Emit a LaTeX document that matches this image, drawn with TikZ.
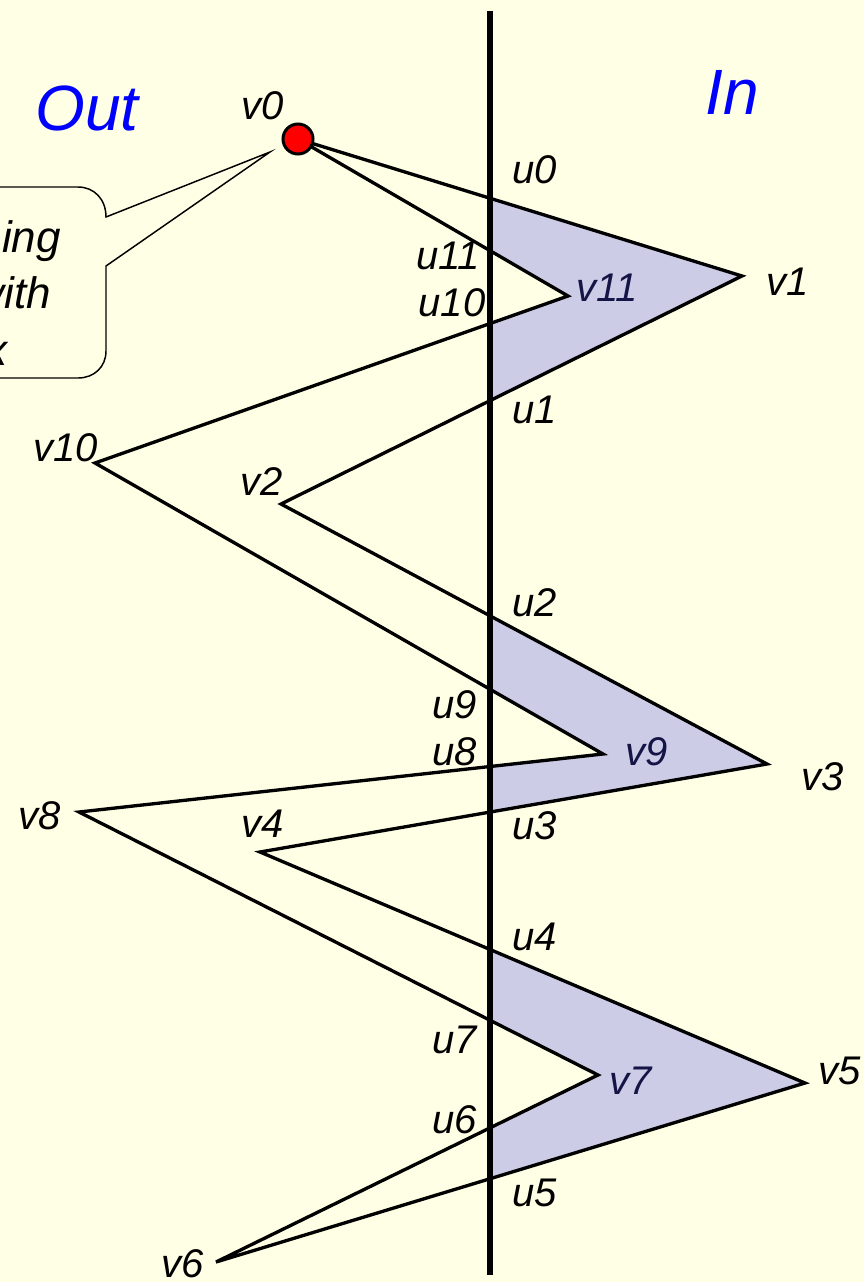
\documentclass[tikz,border=0pt]{standalone}
\usepackage{fontspec}
\setmainfont{Liberation Sans}
\definecolor{bg}{RGB}{255,255,230}
\definecolor{shadecol}{RGB}{204,204,230}
\definecolor{navy}{RGB}{20,20,70}
\definecolor{outblue}{RGB}{0,0,255}
\begin{document}
\begin{tikzpicture}[x=0.75pt,y=-0.75pt,
  lbl/.style={font=\fontsize{30}{36}\selectfont\itshape, inner sep=0pt},
  inlbl/.style={lbl, text=navy},
  notetext/.style={font=\fontsize{33}{40}\selectfont\itshape, inner sep=0pt},
  side/.style={font=\fontsize{48}{56}\selectfont\itshape, inner sep=0pt, text=outblue},
  edge/.style={line width=2.5pt, line join=miter},
  region/.style={fill=shadecol, draw=navy, line width=0.6pt},
  callout/.style={line width=1.1pt, line join=miter},
  axis/.style={line width=4.5pt}]
\useasboundingbox (0,0) rectangle (864,1282);
\fill[bg] (0,0) rectangle (864,1282);
\clip (0,0) rectangle (864,1282);

% vertices
\coordinate (v0) at (298,139);
\coordinate (v1) at (742,276);
\coordinate (v2) at (281,504);
\coordinate (v3) at (767,764);
\coordinate (v4) at (260,852);
\coordinate (v5) at (805,1083);
\coordinate (v6) at (216,1262);
\coordinate (v7) at (598,1075);
\coordinate (v8) at (79,812);
\coordinate (v9) at (603,754);
\coordinate (v10) at (95,463);
\coordinate (v11) at (568,296);
\coordinate (top) at (490,11);
\coordinate (bot) at (490,1275);

% crossings with the line
\coordinate (u0) at (intersection of v0--v1 and top--bot);
\coordinate (u1) at (intersection of v1--v2 and top--bot);
\coordinate (u2) at (intersection of v2--v3 and top--bot);
\coordinate (u3) at (intersection of v3--v4 and top--bot);
\coordinate (u4) at (intersection of v4--v5 and top--bot);
\coordinate (u5) at (intersection of v5--v6 and top--bot);
\coordinate (u6) at (intersection of v6--v7 and top--bot);
\coordinate (u7) at (intersection of v7--v8 and top--bot);
\coordinate (u8) at (intersection of v8--v9 and top--bot);
\coordinate (u9) at (intersection of v9--v10 and top--bot);
\coordinate (u10) at (intersection of v10--v11 and top--bot);
\coordinate (u11) at (intersection of v11--v0 and top--bot);

% shaded regions
\path[region] (u0) -- (v1) -- (u1) -- (u10) -- (v11) -- (u11) -- cycle;
\path[region] (u2) -- (v3) -- (u3) -- (u8) -- (v9) -- (u9) -- cycle;
\path[region] (u4) -- (v5) -- (u5) -- (u6) -- (v7) -- (u7) -- cycle;

% polygon
\draw[edge] (v0) -- (v1) -- (v2) -- (v3) -- (v4) -- (v5) -- (v6) -- (v7)
  -- (v8) -- (v9) -- (v10) -- (v11) -- cycle;

% dividing line
\draw[axis] (top) -- (bot);

% start vertex
\node[circle, fill=red, draw=black, line width=2.25pt, inner sep=0pt,
  minimum size=22.5pt] (start) at (v0) {};

% callout
\coordinate (tip) at (270,152);
\draw[callout] (-60,187) -- (78,187) .. controls (94,187) and (106,199) .. (106,217)
  -- (tip) -- (106,266) -- (106,351) .. controls (106,367) and (94,378) .. (78,378)
  -- (-60,378);
\node[notetext, anchor=base east] (c1) at (61,252) {ing};
\node[notetext, anchor=base east] (c2) at (51,308) {with};
\node[notetext, anchor=base east] (c3) at (8,365) {x};

% side titles
\node[side] (out) at (87,108) {Out};
\node[side] (in) at (732,92) {In};

% labels
\node[lbl] (lv0) at (263,106) {v0};
\node[lbl] (lv1) at (788,282) {v1};
\node[lbl] (lv2) at (262,482) {v2};
\node[lbl] (lv3) at (823,777) {v3};
\node[lbl] (lv4) at (263,824) {v4};
\node[lbl] (lv5) at (840,1071) {v5};
\node[lbl] (lv6) at (183,1264) {v6};
\node[inlbl] (lv7) at (631,1081) {v7};
\node[lbl] (lv8) at (40,816) {v8};
\node[inlbl] (lv9) at (647,752) {v9};
\node[lbl] (lv10) at (66,448) {v10};
\node[inlbl] (lv11) at (607,288) {v11};

\node[lbl] (lu0) at (535,170) {u0};
\node[lbl] (lu1) at (535,410) {u1};
\node[lbl] (lu2) at (535,603) {u2};
\node[lbl] (lu3) at (535,826) {u3};
\node[lbl] (lu4) at (535,937) {u4};
\node[lbl] (lu5) at (535,1193) {u5};
\node[lbl] (lu6) at (455,1120) {u6};
\node[lbl] (lu7) at (455,1040) {u7};
\node[lbl] (lu8) at (455,752) {u8};
\node[lbl] (lu9) at (455,705) {u9};
\node[lbl] (lu10) at (452,303) {u10};
\node[lbl] (lu11) at (448,256) {u11};
\end{tikzpicture}
\end{document}
